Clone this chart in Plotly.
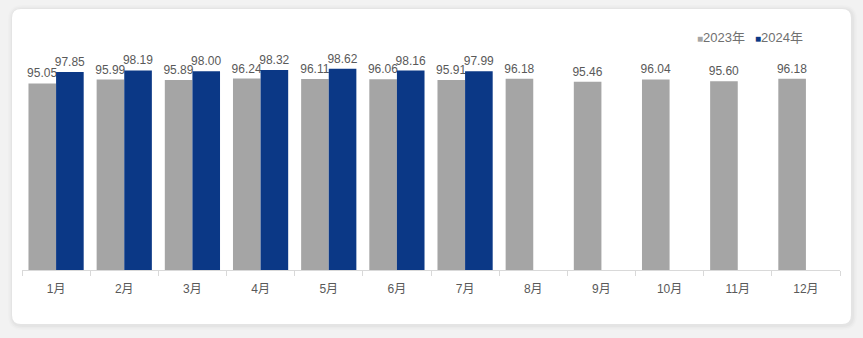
import plotly.graph_objects as go

# Monthly values
months = ["1月", "2月", "3月", "4月", "5月", "6月", "7月", "8月", "9月", "10月", "11月", "12月"]
values_2023 = [95.05, 95.99, 95.89, 96.24, 96.11, 96.06, 95.91, 96.18, 95.46, 96.04, 95.60, 96.18]
values_2024 = [97.85, 98.19, 98.00, 98.32, 98.62, 98.16, 97.99, None, None, None, None, None]
series_names = ["2023年", "2024年"]

W, H = 863, 338
L, R, T, B = 22, 23, 63, 68
PW, PH = W - L - R, H - T - B

GRAY = "#a5a5a5"
BLUE = "#0b3886"
TEXT = "#595959"
FONT = "Liberation Sans, Arial, Noto Sans CJK SC, sans-serif"


def px_x(p):
    return (p - L) / PW


def px_y(p):
    return (H - B - p) / PH


def rounded_rect(x0, y0, x1, y1, r):
    # path in paper coordinates for a rectangle with rounded corners (pixel inputs)
    rx, ry = r / PW, r / PH
    a, b = px_x(x0), px_x(x1)
    top, bot = px_y(y0), px_y(y1)
    return (f"M {a+rx},{top} L {b-rx},{top} Q {b},{top} {b},{top-ry} "
            f"L {b},{bot+ry} Q {b},{bot} {b-rx},{bot} L {a+rx},{bot} "
            f"Q {a},{bot} {a},{bot+ry} L {a},{top-ry} Q {a},{top} {a+rx},{top} Z")


fig = go.Figure()
for name, vals, color in [(series_names[0], values_2023, GRAY), (series_names[1], values_2024, BLUE)]:
    fig.add_trace(go.Bar(
        x=months, y=vals, name=name, marker=dict(color=color, line=dict(width=0)),
        texttemplate="%{y:.2f}", textposition="outside", cliponaxis=False,
        constraintext="none",
        textfont=dict(size=12, color=TEXT, family=FONT),
    ))

shapes = []
# soft card shadow
for i, op in enumerate([0.012, 0.018, 0.025]):
    d = 5 - i * 1.5
    shapes.append(dict(type="path", xref="paper", yref="paper",
                       path=rounded_rect(12 - d + 1, 9 - d + 1, 851 + d + 1, 324 + d + 1, 9 + d),
                       fillcolor=f"rgba(0,0,0,{op})", line=dict(width=0), layer="below"))
shapes.append(dict(type="path", xref="paper", yref="paper",
                   path=rounded_rect(12, 9, 851, 324, 9),
                   fillcolor="white", line=dict(width=0), layer="below"))

LEG_TEXT = "#707070"
annotations = []
for xpos, name, color in [(695, series_names[0], GRAY), (753, series_names[1], BLUE)]:
    annotations.append(dict(
        xref="paper", yref="paper", x=px_x(xpos), y=px_y(38), xanchor="left", yanchor="middle",
        showarrow=False, font=dict(size=13, color=LEG_TEXT, family=FONT),
        text=f"<span style='color:{color};font-size:10px'>■</span>{name}"))

fig.update_layout(
    width=W, height=H, margin=dict(l=L, r=R, t=T, b=B),
    paper_bgcolor="#f2f2f2", plot_bgcolor="rgba(0,0,0,0)",
    barmode="group", bargap=0.19, bargroupgap=0,
    showlegend=False, shapes=shapes, annotations=annotations,
    font=dict(family=FONT, color=TEXT, size=12),
    xaxis=dict(showline=True, linecolor="#d9d9d9", linewidth=1, ticks="outside",
               tickson="boundaries", ticklen=5, tickcolor="#d9d9d9",
               ticklabelstandoff=8,
               tickfont=dict(size=12, color=TEXT, family=FONT), showgrid=False),
    yaxis=dict(range=[50, 100], visible=False, showgrid=False, zeroline=False),
)

fig.write_html("out.html")
